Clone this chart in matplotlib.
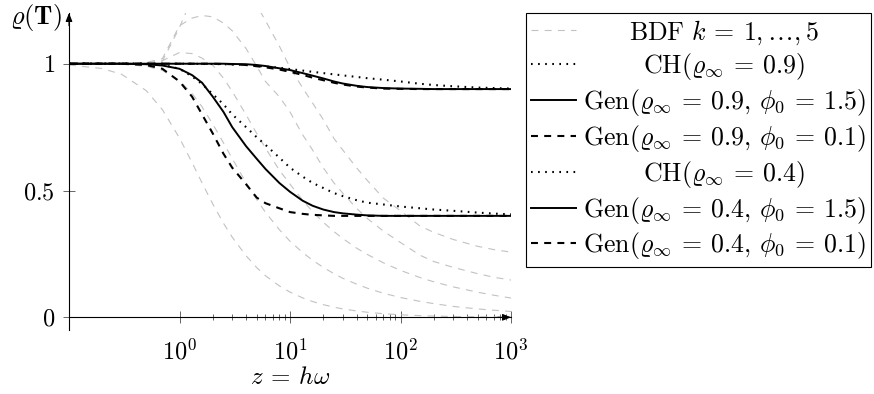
import matplotlib
matplotlib.use("Agg")
import matplotlib.pyplot as plt
from matplotlib.lines import Line2D

plt.rcParams["mathtext.fontset"] = "cm"
plt.rcParams["font.family"] = "serif"
plt.rcParams["font.serif"] = ["cmr10", "DejaVu Serif"]
plt.rcParams["lines.scale_dashes"] = False

# z = h*omega sample points
z = [0.1, 0.2, 0.3, 0.5, 0.7, 1, 1.3, 1.6, 2, 2.5, 3, 4, 5, 6, 8, 10,
     13, 16, 20, 25, 30, 40, 50, 70, 100, 150, 200, 300, 500, 700, 1000]

# BDF k=1..5 spectral radius
bdf1 = [0.995, 0.981, 0.958, 0.894, 0.819, 0.707, 0.610, 0.530, 0.447, 0.371,
        0.316, 0.243, 0.196, 0.164, 0.124, 0.0995, 0.0767, 0.0624, 0.050, 0.040,
        0.0333, 0.025, 0.020, 0.0143, 0.010, 0.0067, 0.005, 0.0033, 0.002, 0.0014, 0.001]
bdf2 = [1.0, 1.0, 0.998, 0.990, 0.974, 0.933, 0.883, 0.830, 0.762, 0.688,
        0.626, 0.531, 0.464, 0.414, 0.346, 0.300, 0.256, 0.225, 0.197, 0.172,
        0.154, 0.131, 0.115, 0.095, 0.078, 0.063, 0.054, 0.043, 0.033, 0.028, 0.023]
bdf3 = [1.0, 1.0, 1.0, 1.003, 1.012, 1.044, 1.040, 1.022, 0.994, 0.943,
        0.891, 0.799, 0.725, 0.667, 0.581, 0.525, 0.462, 0.417, 0.375, 0.338,
        0.311, 0.273, 0.248, 0.215, 0.185, 0.157, 0.140, 0.120, 0.099, 0.087, 0.076]
bdf4 = [1.0, 1.0, 1.0, 1.005, 1.02, 1.15, 1.18, 1.19, 1.185, 1.16,
        1.13, 1.06, 0.99, 0.93, 0.87, 0.81, 0.72, 0.66, 0.59, 0.53,
        0.49, 0.43, 0.39, 0.34, 0.295, 0.245, 0.22, 0.197, 0.172, 0.158, 0.147]
bdf5 = [1.0, 1.0, 1.0, 1.002, 1.01, 1.143, 1.26, 1.36, 1.45, 1.5,
        1.5, 1.4, 1.23, 1.17, 1.07, 0.985, 0.905, 0.845, 0.78, 0.705,
        0.66, 0.59, 0.54, 0.47, 0.42, 0.36, 0.335, 0.307, 0.28, 0.267, 0.257]

# rho_inf = 0.9
ch09 = [1.0, 1.0, 1.0, 1.0, 1.0, 1.0, 1.0, 0.999, 0.999, 0.998,
        0.997, 0.995, 0.992, 0.989, 0.984, 0.979, 0.973, 0.968, 0.963, 0.958,
        0.954, 0.948, 0.943, 0.937, 0.930, 0.921, 0.916, 0.911, 0.906, 0.904, 0.902]
gen09_15 = [1.0, 1.0, 1.0, 1.0, 1.0, 1.0, 1.0, 1.0, 1.0, 1.0,
            0.999, 0.998, 0.995, 0.991, 0.982, 0.975, 0.963, 0.953, 0.942, 0.930,
            0.922, 0.913, 0.908, 0.904, 0.902, 0.901, 0.900, 0.900, 0.900, 0.900, 0.900]
gen09_01 = [1.0, 1.0, 1.0, 1.0, 1.0, 1.0, 1.0, 1.0, 1.0, 0.999,
            0.998, 0.995, 0.990, 0.986, 0.977, 0.968, 0.956, 0.945, 0.935, 0.925,
            0.918, 0.910, 0.906, 0.902, 0.901, 0.900, 0.900, 0.900, 0.900, 0.900, 0.900]

# rho_inf = 0.4
ch04 = [1.0, 1.0, 1.0, 1.0, 0.996, 0.98, 0.95, 0.92, 0.88, 0.84,
        0.80, 0.75, 0.71, 0.68, 0.63, 0.59, 0.555, 0.53, 0.51, 0.49,
        0.478, 0.462, 0.452, 0.445, 0.437, 0.43, 0.425, 0.42, 0.413, 0.409, 0.406]
gen04_15 = [1.0, 1.0, 1.0, 0.998, 0.993, 0.98, 0.955, 0.925, 0.87, 0.81,
            0.75, 0.675, 0.625, 0.585, 0.53, 0.495, 0.46, 0.44, 0.425, 0.415,
            0.41, 0.405, 0.402, 0.40, 0.40, 0.40, 0.40, 0.40, 0.40, 0.40, 0.40]
gen04_01 = [1.0, 1.0, 1.0, 0.995, 0.98, 0.93, 0.87, 0.80, 0.725, 0.645,
            0.59, 0.525, 0.472, 0.45, 0.43, 0.415, 0.408, 0.404, 0.402, 0.40,
            0.40, 0.40, 0.40, 0.40, 0.40, 0.40, 0.40, 0.40, 0.40, 0.40, 0.40]

# LaTeX-like spacing around "=" and after commas
EQ = r"\hspace{0.2}=\hspace{0.2}"
CM = r",\hspace{0.2}"
labels = [r"$\mathrm{BDF}\ k" + EQ + r"1,\ldots,5$",
          r"$\mathrm{CH}(\varrho_\infty" + EQ + r"0.9)$",
          r"$\mathrm{Gen}(\varrho_\infty" + EQ + "0.9" + CM + r"\phi_0" + EQ + "1.5)$",
          r"$\mathrm{Gen}(\varrho_\infty" + EQ + "0.9" + CM + r"\phi_0" + EQ + "0.1)$",
          r"$\mathrm{CH}(\varrho_\infty" + EQ + r"0.4)$",
          r"$\mathrm{Gen}(\varrho_\infty" + EQ + "0.4" + CM + r"\phi_0" + EQ + "1.5)$",
          r"$\mathrm{Gen}(\varrho_\infty" + EQ + "0.4" + CM + r"\phi_0" + EQ + "0.1)$"]

W, H = 874, 394
fig = plt.figure(figsize=(W / 100, H / 100), dpi=100)
ax = fig.add_axes([69 / W, (H - 330) / H, (511 - 69) / W, (330 - 13) / H])

gray = dict(color="0.76", lw=0.8, dashes=(5, 4.5))
dotted = dict(color="black", lw=1.5, dashes=(1.2, 3.9))
solid = dict(color="black", lw=1.4)
dashed = dict(color="black", lw=1.5, dashes=(5, 4.5))

for s in [bdf1, bdf2, bdf3, bdf4, bdf5]:
    ax.plot(z, s, **gray)
ax.plot(z, ch09, **dotted)
ax.plot(z, gen09_15, **solid)
ax.plot(z, gen09_01, **dashed)
ax.plot(z, ch04, **dotted)
ax.plot(z, gen04_15, **solid)
ax.plot(z, gen04_01, **dashed)

ax.set_xscale("log")
ax.set_xlim(0.1, 1000)
ax.set_ylim(-0.05, 1.2)

for side in ["top", "right"]:
    ax.spines[side].set_visible(False)
ax.spines["bottom"].set_position(("data", 0))
ax.spines["left"].set_linewidth(0.8)
ax.spines["bottom"].set_linewidth(0.8)

# arrow heads at the axis ends
ax.annotate("", xy=(1.0, 0), xycoords=("axes fraction", "data"),
            xytext=(0.97, 0), textcoords=("axes fraction", "data"),
            arrowprops=dict(arrowstyle="-|>,head_length=0.5,head_width=0.2",
                            color="black", lw=0.8, shrinkA=0, shrinkB=0))
ax.annotate("", xy=(0, 1.0), xycoords="axes fraction",
            xytext=(0, 0.96), textcoords="axes fraction",
            arrowprops=dict(arrowstyle="-|>,head_length=0.5,head_width=0.2",
                            color="black", lw=0.8, shrinkA=0, shrinkB=0))

ax.set_xticks([1, 10, 100, 1000])
ax.set_xticklabels([r"$10^{0}$", r"$10^{1}$", r"$10^{2}$", r"$10^{3}$"])
ax.set_xticks([m * d for d in [1, 10, 100] for m in range(2, 10)], minor=True)
ax.set_yticks([0, 0.5, 1])
ax.set_yticklabels([r"$0$", r"$0.5$", r"$1$"])
ax.tick_params(which="major", direction="inout", length=8.5, width=0.6,
               color="0.3", labelsize=17.5, pad=6)
ax.tick_params(which="minor", direction="inout", length=4.5, width=0.6,
               color="0.3")
ax.tick_params(axis="x", which="major", pad=11)

ax.set_xlabel(r"$z" + EQ + r"h\omega$", fontsize=18, labelpad=2)
ax.text(-0.016, 0.985, r"$\varrho(\mathbf{T})$", transform=ax.transAxes,
        ha="right", va="center", fontsize=19)

handles = [Line2D([], [], **gray), Line2D([], [], **dotted), Line2D([], [], **solid),
           Line2D([], [], **dashed), Line2D([], [], **dotted), Line2D([], [], **solid),
           Line2D([], [], **dashed)]
leg = fig.legend(handles, labels, loc="upper right",
                 bbox_to_anchor=(871 / W, 1 - 13 / H), fontsize=18.6,
                 fancybox=False, edgecolor="black", framealpha=1,
                 handlelength=1.75, handletextpad=0.25, borderpad=0.2,
                 labelspacing=0.185, borderaxespad=0)
leg.get_frame().set_linewidth(0.8)

# centre the legend entries like pgfplots does
fig.canvas.draw()
texts = leg.get_texts()
widths = [t.get_window_extent().width for t in texts]
wmax = max(widths)
for t, w in zip(texts, widths):
    t.set_x((wmax - w) / 2)

fig.savefig("out.png", dpi=100)
